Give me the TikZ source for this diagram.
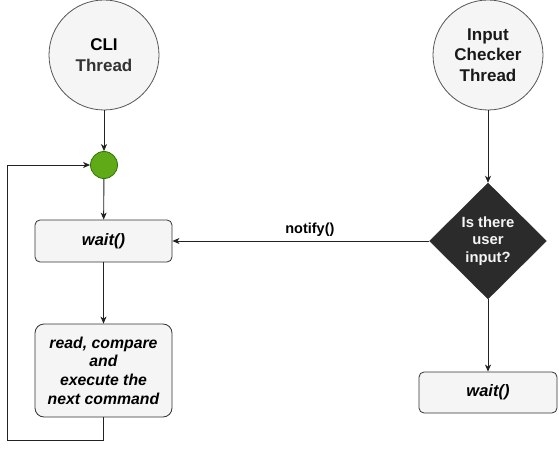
\documentclass[tikz,border=0pt]{standalone}
\usepackage{fontspec}
\setmainfont{Liberation Sans}
\usetikzlibrary{shapes.geometric,arrows.meta}
\definecolor{lightfill}{HTML}{F5F5F5}
\definecolor{circborder}{HTML}{555555}
\definecolor{boxborder}{HTML}{333333}
\definecolor{darkfill}{HTML}{2B2B2B}
\definecolor{greenfill}{HTML}{60A917}
\definecolor{greenborder}{HTML}{2D7600}
\definecolor{textgray}{HTML}{333333}
\definecolor{linegray}{HTML}{222222}
\begin{document}
\begin{tikzpicture}[x=1pt,y=-1pt,
  thread/.style={circle,draw=circborder,fill=lightfill,line width=0.8pt,minimum size=110pt,inner sep=0pt,align=center,font=\fontsize{17}{20.7}\selectfont\bfseries},
  procbox/.style={rectangle,rounded corners=5pt,draw=boxborder,fill=lightfill,line width=0.8pt,inner sep=0pt,align=center},
  decision/.style={diamond,fill=darkfill,draw=darkfill,minimum width=117pt,minimum height=116pt,inner sep=0pt,align=center,text=lightfill,font=\fontsize{14.8}{17.5}\selectfont\bfseries},
  junction/.style={circle,draw=greenborder,fill=greenfill,line width=0.8pt,minimum size=27pt,inner sep=0pt},
  flow/.style={draw=linegray,line width=0.9pt,-{Stealth[length=7pt,width=6pt,inset=2pt]}}
]
\useasboundingbox (0,0) rectangle (559,449);
\node[thread] (cli) at (104,55) {CLI\\\textcolor{textgray}{Thread}};
\node[thread,text=black!90] (ict) at (488,55) {Input\\Checker\\Thread};
\node[junction] (jn) at (104,165) {};
\node[procbox,minimum width=137pt,minimum height=42pt,font=\fontsize{16.5}{19}\selectfont\bfseries\itshape] (waitA) at (103.5,241) {wait()};
\node[procbox,rounded corners=9pt,minimum width=137pt,minimum height=93pt,font=\fontsize{15.8}{18.7}\selectfont\bfseries\itshape] (read) at (103.5,370.5) {read, compare\\and\\execute the\\next command};
\node[decision] (dec) at (488,241) {Is there\\user\\input?};
\node[procbox,minimum width=138pt,minimum height=41pt,font=\fontsize{16.5}{19}\selectfont\bfseries\itshape] (waitB) at (488,392.5) {wait()};
\coordinate (c1) at (103.5,440);
\coordinate (c2) at (7,440);
\coordinate (c3) at (7,165);
\draw[flow] (cli) -- (jn);
\draw[flow] (jn) -- (waitA);
\draw[flow] (waitA) -- (read);
\draw[flow] (read.south) -- (c1) -- (c2) -- (c3) -- (jn.west);
\draw[flow] (ict) -- (dec.north);
\draw[flow] (dec.south) -- (waitB);
\draw[flow] (dec.west) -- node[above=1pt,pos=0.465,font=\fontsize{14.5}{17}\selectfont\bfseries,text=black] (lbl) {notify()} (waitA.east);
\end{tikzpicture}
\end{document}
